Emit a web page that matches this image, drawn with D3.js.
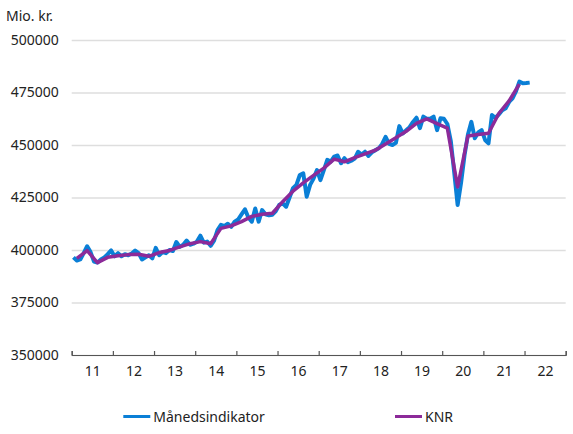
<!DOCTYPE html>
<html>
<head>
<meta charset="utf-8">
<script src="https://cdn.jsdelivr.net/npm/d3@7"></script>
<style>
  body { margin: 0; background: #fff; }
  svg text { font-family: "Noto Sans", sans-serif; fill: #222; }
</style>
</head>
<body>
<svg id="chart" width="573" height="434"></svg>
<script>
// Monthly indicator, Jan 2011 .. Feb 2022 (mio. kr.)
const monthly = [
  396500, 395000, 395500, 398500, 401800, 399000, 394500, 394000, 395500, 396500, 398000, 399800,
  397000, 398500, 397000, 398000, 397500, 398300, 399700, 398500, 395500, 396500, 397500, 396000,
  401000, 397500, 399000, 398500, 400000, 399500, 403800, 401500, 402500, 404500, 402500, 403000,
  404000, 406800, 403500, 404000, 402000, 404500, 409500, 412000, 411500, 412500, 411000, 413500,
  414500, 417000, 419400, 415500, 413500, 419800, 413500, 419000, 417000, 416500, 416800, 418500,
  421500, 422200, 420600, 425000, 429400, 431000, 435700, 436500, 425400, 431000, 434000, 438100,
  433300, 438000, 442900, 442100, 444500, 445000, 441300, 443700, 441800, 442500, 443500, 446800,
  445500, 446800, 444800, 446500, 447500, 448400, 450500, 453900, 450500, 450000, 451000, 459000,
  455500, 457000, 458500, 461000, 463000, 458000, 463500, 462500, 462500, 463500, 457100, 462700,
  462500, 460000, 452000, 437000, 421400, 432000, 445000, 455000, 461000, 453200, 456000, 457100,
  452400, 450800, 464300, 463000, 464500, 466500, 467500, 470500, 472200, 475500, 480200, 479400,
  479500, 479700
];
// KNR quarterly, 2011Q1 .. 2021Q4
const quarterly = [
  396000, 399700, 394000, 396500,
  397300, 397800, 398000, 397000,
  398800, 399800, 401500, 403000,
  404000, 403000, 410300, 411500,
  413500, 416000, 417000, 417500,
  423000, 428000, 432000, 435500,
  439000, 443300, 442000, 444000,
  445800, 447500, 450500, 453500,
  456500, 460300, 462400, 460200,
  458000, 430000, 454300, 455000,
  455600, 465000, 471000, 479000
];
const yearLabels = ["11","12","13","14","15","16","17","18","19","20","21","22"];
const yTicks = [350000, 375000, 400000, 425000, 450000, 475000, 500000];
const seriesNames = ["Månedsindikator", "KNR"];
const colors = ["#0a7fd6", "#8c2a99"];

const svg = d3.select("#chart");
const x = d3.scaleLinear().domain([0, 144]).range([71.7, 565.7]);
const y = d3.scaleLinear().domain([350000, 500000]).range([355, 40]);

// grid + y labels
const yAxis = d3.axisLeft(y).tickValues(yTicks).tickFormat(d3.format("d"))
  .tickSize(-(565.7 - 71.7)).tickPadding(13);
const gy = svg.append("g").attr("transform", "translate(71.7,0)").call(yAxis);
gy.select(".domain").remove();
gy.selectAll(".tick line").attr("stroke", "#dedede").attr("stroke-width", 1.5);
gy.selectAll(".tick text").attr("font-size", 14).attr("fill", "#222")
  .style("font-family", "'Noto Sans', sans-serif");

// x axis ticks at year boundaries
const xTickVals = d3.range(0, 145, 12);
const xAxis = d3.axisBottom(x).tickValues(xTickVals).tickSize(-4).tickFormat("");
const gx = svg.append("g").attr("transform", "translate(0,355)").call(xAxis);
gx.select(".domain").attr("stroke", "#555").attr("stroke-width", 1.2);
gx.selectAll(".tick line").attr("stroke", "#555").attr("stroke-width", 1.2);

// year labels centered
const xLab = d3.axisBottom(x).tickValues(yearLabels.map((d, i) => i * 12 + 6))
  .tickFormat((d, i) => yearLabels[i]).tickSize(0).tickPadding(11);
const gl = svg.append("g").attr("transform", "translate(0,355)").call(xLab);
gl.select(".domain").remove();
gl.selectAll(".tick text").attr("font-size", 14).attr("fill", "#222")
  .style("font-family", "'Noto Sans', sans-serif");

// lines
const lineM = d3.line().x((d, i) => x(i + 0.5)).y(d => y(d)).curve(d3.curveLinear);
const lineQ = d3.line().x((d, i) => x(i * 3 + 1.5)).y(d => y(d)).curve(d3.curveLinear);

svg.append("path").datum(monthly).attr("d", lineM)
  .attr("fill", "none").attr("stroke", colors[0]).attr("stroke-width", 4)
  .attr("stroke-linejoin", "round");
svg.append("path").datum(quarterly).attr("d", lineQ)
  .attr("fill", "none").attr("stroke", colors[1]).attr("stroke-width", 3.5)
  .attr("stroke-linejoin", "round");

// unit label
svg.append("text").attr("x", 6).attr("y", 21).attr("font-size", 14).text("Mio. kr.");

// legend
const legendPos = [123.3, 395];
seriesNames.forEach((name, i) => {
  const lx = legendPos[i];
  svg.append("line").attr("x1", lx).attr("x2", lx + 27).attr("y1", 416.5).attr("y2", 416.5)
    .attr("stroke", colors[i]).attr("stroke-width", 3);
  svg.append("text").attr("x", lx + 30).attr("y", 421.5).attr("font-size", 14).text(name);
});
</script>
</body>
</html>
